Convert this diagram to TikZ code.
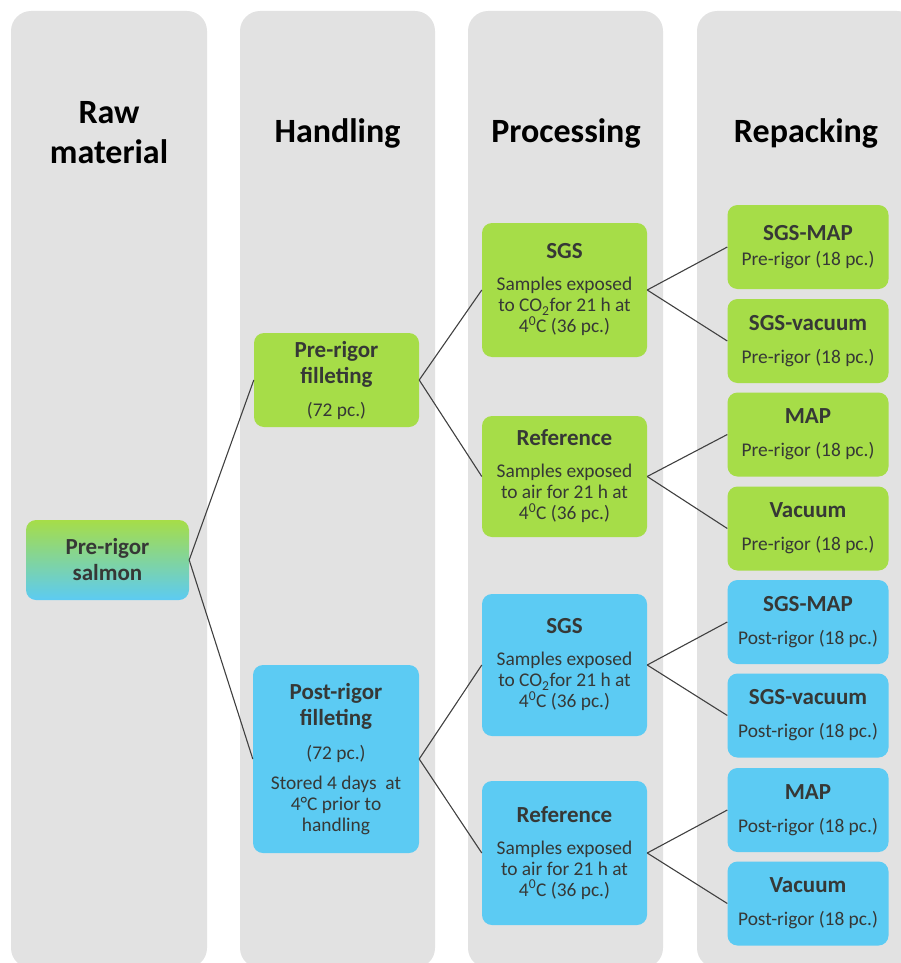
\documentclass[tikz,border=0pt]{standalone}
\usepackage{fontspec}
\setmainfont{Carlito}
\usepackage{tikz}
\usetikzlibrary{positioning,calc}
\definecolor{colgray}{HTML}{E2E2E2}
\definecolor{boxgreen}{HTML}{A6DD48}
\definecolor{boxblue}{HTML}{5CCBF3}
\definecolor{txtgray}{HTML}{363836}
\definecolor{linegray}{HTML}{404040}
\newcommand{\boxtitle}[1]{{\fontsize{23}{25}\selectfont\bfseries #1}}
\newcommand{\cotwo}{CO\smash{\textsubscript{2}}}
\newcommand{\fourdeg}{4\smash{\textsuperscript{0}}C}
\tikzset{
        column/.style={fill=colgray, rounded corners=20pt},
        head/.style={font=\fontsize{34}{40}\selectfont\bfseries, align=center, text=black},
        block/.style={rounded corners=10pt, align=center, text=txtgray, inner sep=2pt,
                      font=\fontsize{19.4}{21}\selectfont},
        greenbox/.style={block, fill=boxgreen},
        bluebox/.style={block, fill=boxblue},
        packbox/.style={minimum width=161pt, minimum height=84pt},
        line/.style={draw=linegray, line width=1.1pt}
    }

\begin{document}
\begin{tikzpicture}[x=1pt, y=-1pt]
    \useasboundingbox (0,0) rectangle (901,963);
    \clip (0,0) rectangle (901,963);

    % columns
    \fill[column] (11,11) rectangle (207,968);
    \fill[column] (240,11) rectangle (435,968);
    \fill[column] (468,11) rectangle (663,968);
    \fill[column] (697,11) rectangle (917,968);

    \node[head] (hraw) at (109,133) {Raw\\material};
    \node[head] (hhand) at (337.5,133) {Handling};
    \node[head] (hproc) at (566,133) {Processing};
    \node[head] (hpack) at (806,133) {Repacking};

    % raw material and handling
    \node[block, top color=boxgreen, bottom color=boxblue, minimum width=163pt, minimum height=80pt] (salmon) at (107.5,560) {\boxtitle{Pre-rigor}\\[5pt]\boxtitle{salmon}};
    \node[greenbox, minimum width=165pt, minimum height=94pt] (prefill) at (336.5,380) {\boxtitle{Pre-rigor}\\[5pt]\boxtitle{filleting}\\[12pt](72 pc.)};
    \node[bluebox, minimum width=166pt, minimum height=188pt] (postfill) at (336,759) {\boxtitle{Post-rigor}\\[5pt]\boxtitle{filleting}\\[13pt](72 pc.)\\[9pt]Stored 4 days~ at\\4°C prior to\\handling};

    % processing
    \node[greenbox, minimum width=165pt, minimum height=134pt] (sgsg) at (564.5,290) {\boxtitle{SGS}\\[11pt]Samples exposed\\to \cotwo for 21 h at\\\fourdeg{} (36 pc.)};
    \node[greenbox, minimum width=165pt, minimum height=121pt] (refg) at (564.5,476.5) {\boxtitle{Reference}\\[11pt]Samples exposed\\to air for 21 h at\\\fourdeg{} (36 pc.)};
    \node[bluebox, minimum width=165pt, minimum height=142pt] (sgsb) at (564.5,665) {\boxtitle{SGS}\\[11pt]Samples exposed\\to \cotwo for 21 h at\\\fourdeg{} (36 pc.)};
    \node[bluebox, minimum width=165pt, minimum height=144pt] (refb) at (564.5,853) {\boxtitle{Reference}\\[11pt]Samples exposed\\to air for 21 h at\\\fourdeg{} (36 pc.)};

    % repacking
    \node[greenbox, packbox] (sgsmapg) at (808,247) {\boxtitle{SGS-MAP}\\[4pt]Pre-rigor (18 pc.)};
    \node[greenbox, packbox] (sgsvacg) at (808,341) {\boxtitle{SGS-vacuum}\\[12pt]Pre-rigor (18 pc.)};
    \node[greenbox, packbox] (mapg) at (808,434.5) {\boxtitle{MAP}\\[12pt]Pre-rigor (18 pc.)};
    \node[greenbox, packbox] (vacg) at (808,528.5) {\boxtitle{Vacuum}\\[12pt]Pre-rigor (18 pc.)};
    \node[bluebox, packbox] (sgsmapb) at (808,622) {\boxtitle{SGS-MAP}\\[12pt]Post-rigor (18 pc.)};
    \node[bluebox, packbox] (sgsvacb) at (808,715.5) {\boxtitle{SGS-vacuum}\\[12pt]Post-rigor (18 pc.)};
    \node[bluebox, packbox] (mapb) at (808,810) {\boxtitle{MAP}\\[12pt]Post-rigor (18 pc.)};
    \node[bluebox, packbox] (vacb) at (808,903.5) {\boxtitle{Vacuum}\\[12pt]Post-rigor (18 pc.)};

    % connections
    \draw[line] (salmon.east) -- (prefill.west);
    \draw[line] (salmon.east) -- (postfill.west);
    \draw[line] (prefill.east) -- (sgsg.west);
    \draw[line] (prefill.east) -- (refg.west);
    \draw[line] (postfill.east) -- (sgsb.west);
    \draw[line] (postfill.east) -- (refb.west);
    \draw[line] (sgsg.east) -- (sgsmapg.west);
    \draw[line] (sgsg.east) -- (sgsvacg.west);
    \draw[line] (refg.east) -- (mapg.west);
    \draw[line] (refg.east) -- (vacg.west);
    \draw[line] (sgsb.east) -- (sgsmapb.west);
    \draw[line] (sgsb.east) -- (sgsvacb.west);
    \draw[line] (refb.east) -- (mapb.west);
    \draw[line] (refb.east) -- (vacb.west);

\end{tikzpicture}
\end{document}
